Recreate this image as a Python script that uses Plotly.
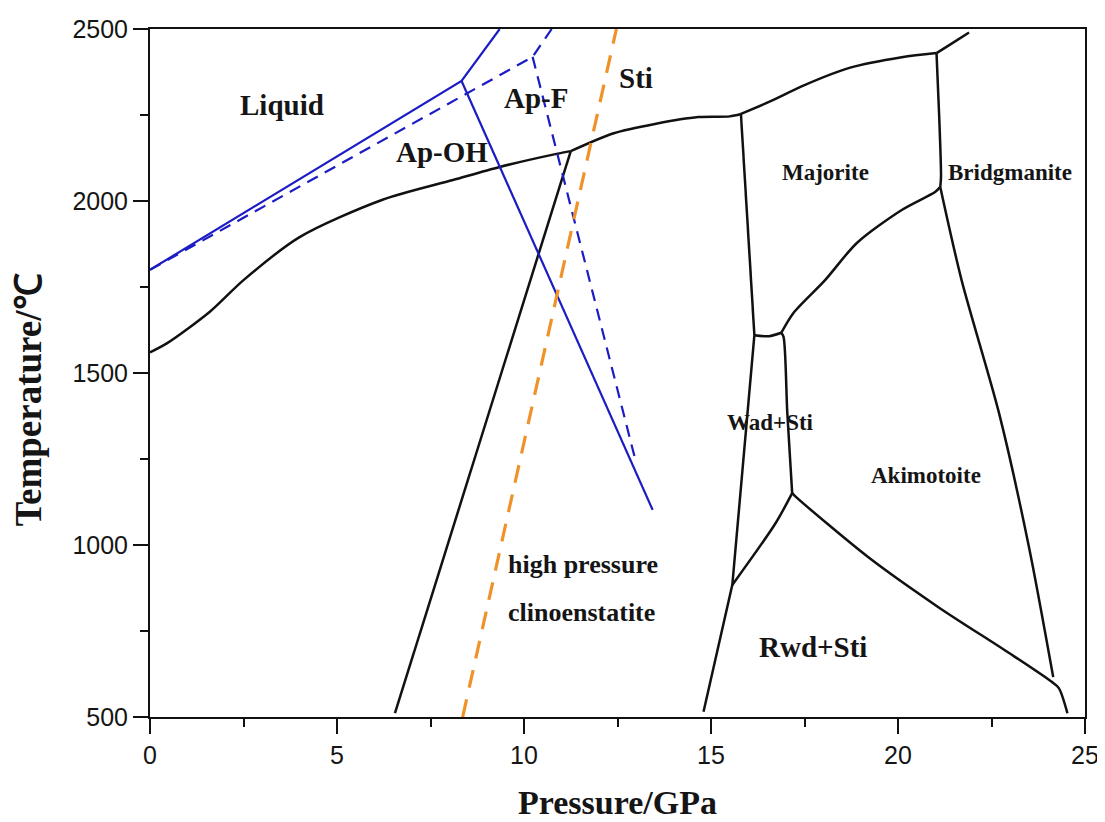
import plotly.graph_objects as go

# ---------------- data (pressure GPa, temperature °C) ----------------
# solidus, split at the invariant points
solidus1_P = [0, 0.45, 1.6, 2.5, 4.0, 6.2, 8.1, 9.35, 10.87, 11.25]
solidus1_T = [1560, 1586, 1678, 1770, 1895, 2003, 2061, 2099, 2137, 2145]
solidus2_P = [11.25, 12.4, 13.5, 14.66, 15.5, 15.8]
solidus2_T = [2145, 2197, 2224, 2244, 2246, 2253]
solidus3_P = [15.8, 16.55, 17.5, 18.7, 20.1, 21.03]
solidus3_T = [2253, 2288, 2337, 2387, 2418, 2430]
solidus4_P = [21.03, 21.37, 21.9]
solidus4_T = [2430, 2453, 2490]

hpc_P = [6.55, 11.25]
hpc_T = [511, 2145]

maj_left_P = [15.8, 16.16]
maj_left_T = [2253, 1610]

wad_left_P = [16.16, 15.57, 14.8]
wad_left_T = [1610, 884, 515]

wad_top_P = [16.16, 16.55, 16.88]
wad_top_T = [1610, 1607, 1617]

wad_right_P = [16.88, 16.94, 17.04, 17.17]
wad_right_T = [1617, 1605, 1384, 1151]

wad_branch_P = [17.17, 16.73, 15.57]
wad_branch_T = [1151, 1064, 884]

rwd_aki_P = [17.17, 17.3, 19.2, 21.07, 22.97, 24.1, 24.3, 24.53]
rwd_aki_T = [1151, 1137, 965, 820, 686, 603, 584, 511]

maj_aki_P = [16.88, 17.2, 18.05, 18.9, 20.1, 21.0, 21.13]
maj_aki_T = [1617, 1674, 1770, 1878, 1974, 2027, 2041]

brg_vert_P = [21.03, 21.1, 21.15, 21.13]
brg_vert_T = [2430, 2250, 2070, 2041]

brg_aki_P = [21.13, 21.7, 22.7, 23.5, 24.15]
brg_aki_T = [2041, 1770, 1384, 995, 616]

apoh_liq_P = [0, 8.33, 9.35]
apoh_liq_T = [1800, 2349, 2500]
apoh_hp_P = [8.33, 13.44]
apoh_hp_T = [2349, 1102]

apf_liq_P = [0, 10.23, 10.74]
apf_liq_T = [1800, 2419, 2500]
apf_hp_P = [10.23, 13.0]
apf_hp_T = [2419, 1238]

sti_P = [8.36, 12.47]
sti_T = [500, 2500]

labels = ["Liquid", "Ap-F", "Ap-OH", "Sti", "Majorite", "Bridgmanite", "Wad+Sti",
          "Akimotoite", "high pressure", "clinoenstatite", "Rwd+Sti"]
label_P = [3.53, 10.32, 7.81, 13.0, 18.07, 23.0, 16.58, 20.75, 11.58, 11.55, 17.73]
label_T = [2279, 2299, 2142, 2358, 2084, 2084, 1355, 1203, 942, 805, 703]
label_size = [29, 29, 29, 29, 23, 23, 23, 23, 26, 26, 29]

x_ticks = [0, 5, 10, 15, 20, 25]
y_ticks = [500, 1000, 1500, 2000, 2500]

# ---------------- figure ----------------
BLACK = "#111111"
BLUE = "#1c1cc4"
ORANGE = "#f0922a"
TXT = "#151515"

fig = go.Figure()

def add_line(P, T, color, width, dash="solid", shape="linear"):
    fig.add_trace(go.Scatter(x=P, y=T, mode="lines",
                             line=dict(color=color, width=width, dash=dash, shape=shape,
                                       smoothing=0.8 if shape == "spline" else None),
                             showlegend=False, hoverinfo="skip"))

for P, T in [(solidus1_P, solidus1_T), (solidus2_P, solidus2_T), (solidus3_P, solidus3_T),
             (solidus4_P, solidus4_T), (maj_aki_P, maj_aki_T), (brg_aki_P, brg_aki_T),
             (rwd_aki_P, rwd_aki_T), (wad_right_P, wad_right_T), (wad_top_P, wad_top_T),
             (brg_vert_P, brg_vert_T), (wad_branch_P, wad_branch_T)]:
    add_line(P, T, BLACK, 2.5, shape="spline")

for P, T in [(hpc_P, hpc_T), (maj_left_P, maj_left_T), (wad_left_P, wad_left_T)]:
    add_line(P, T, BLACK, 2.5)

add_line(apoh_liq_P, apoh_liq_T, BLUE, 2.2)
add_line(apoh_hp_P, apoh_hp_T, BLUE, 2.2)
add_line(apf_liq_P, apf_liq_T, BLUE, 2.2, "12px,8px")
add_line(apf_hp_P, apf_hp_T, BLUE, 2.2, "12px,8px")
add_line(sti_P, sti_T, ORANGE, 3.2, "18px,12px")

for txt, p, t, s in zip(labels, label_P, label_T, label_size):
    fig.add_annotation(x=p, y=t, text="<b>%s</b>" % txt, showarrow=False,
                       font=dict(family="Liberation Serif", size=s, color=TXT))

# axis titles
fig.add_annotation(xref="paper", yref="paper", x=0.5, y=-0.124, text="<b>Pressure/GPa</b>",
                   showarrow=False, xanchor="center", yanchor="middle",
                   font=dict(family="Liberation Serif", size=34, color=TXT))
fig.add_annotation(xref="paper", yref="paper", x=-0.13, y=0.461, text="<b>Temperature/℃</b>",
                   showarrow=False, xanchor="center", yanchor="middle", textangle=-90,
                   font=dict(family="Liberation Serif", size=37, color=TXT))

axis_common = dict(showgrid=False, zeroline=False, showline=True, linecolor=BLACK,
                   linewidth=2, mirror=True, ticks="outside", ticklen=15, tickwidth=2,
                   tickcolor=BLACK, automargin=False,
                   tickfont=dict(family="Liberation Sans", size=25, color=TXT))

fig.update_xaxes(range=[0, 25], tickvals=x_ticks, ticktext=[str(v) for v in x_ticks],
                 minor=dict(dtick=2.5, ticks="outside", ticklen=8, tickwidth=2, tickcolor=BLACK),
                 **axis_common)
fig.update_yaxes(range=[500, 2500], tickvals=y_ticks, ticktext=[str(v) for v in y_ticks],
                 minor=dict(dtick=250, ticks="outside", ticklen=8, tickwidth=2, tickcolor=BLACK),
                 **axis_common)

# the page shows the figure offset by the body margin (8 px), so the figure is sized to fit
fig.update_layout(width=1097, height=814, plot_bgcolor="white", paper_bgcolor="white",
                  margin=dict(l=142, r=20, t=21, b=105), showlegend=False)

fig.write_html("out.html")
